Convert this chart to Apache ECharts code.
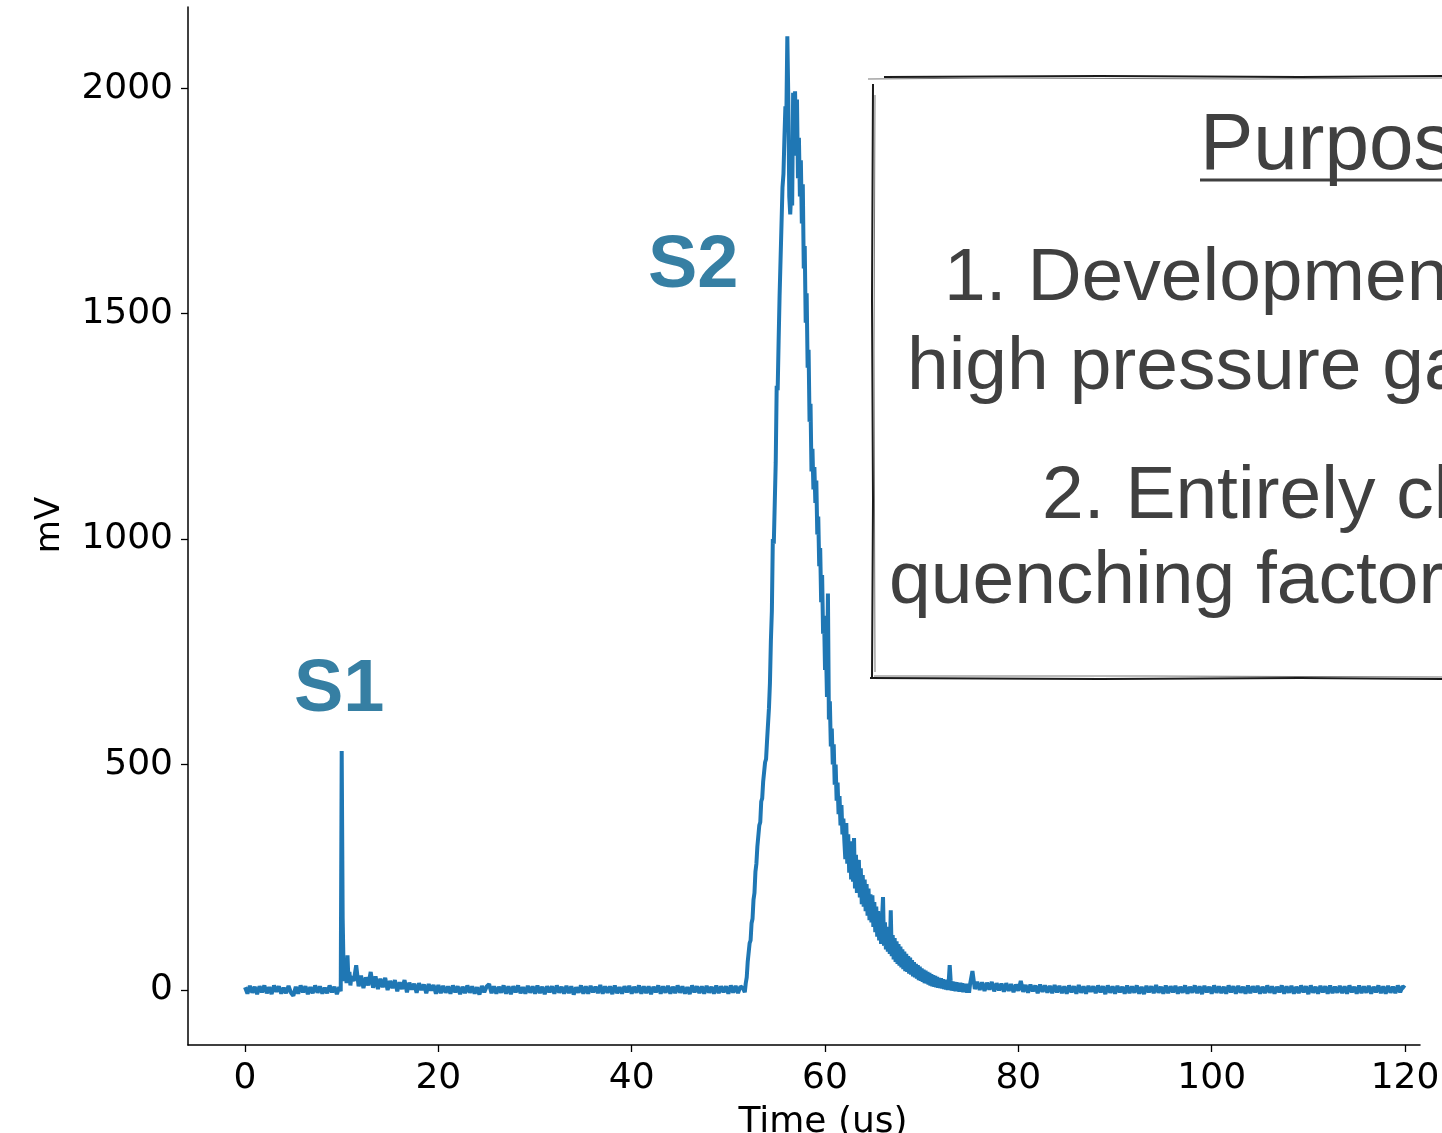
<!DOCTYPE html>
<html><head><meta charset="utf-8">
<script src="https://cdn.jsdelivr.net/npm/echarts@6/dist/echarts.min.js"></script>
<style>html,body{margin:0;padding:0;background:#fff;overflow:hidden}#c{width:1442px;height:1133px}</style>
</head><body><div id="c"></div>
<script>
// Axis ticks
const xTicks = [0, 20, 40, 60, 80, 100, 120];
const yTicks = [0, 500, 1000, 1500, 2000];
const xTitle = 'Time (us)';
const yTitle = 'mV';
const peakLabels = ['S1', 'S2'];
const boxLines = ['Purpose', '1. Development', 'high pressure gas', '2. Entirely clean', 'quenching factor'];

// Waveform segments (mV), sampled from t0 (µs) with a step dt (µs)
const preStart = 0, preStep = 0.25;
const preValues = [6, -8, 9, -6, 7, -9, 8, -5, 10, -7,
  6, -9, 10, -4, 8, -8, 5, -7, 9, -6,
  -13, 7, -8, 10, -5, 8, -9, 6, -7, 10,
  -6, 8, -8, 5, -7, 10, -5, 7, -9, 6];

const s1Start = 9.9, s1Step = 0.1;
const s1Values = [-3, 530, 160, 40, 20, 60, 15, 77, 20, 40, 10, 30];

const s1TailStart = 11.25, s1TailStep = 0.25;
const s1TailValues = [20, 55, 8, 32, 4, 28, 10, 40, 5, 30,
  2, 25, 6, 27, 0, 20, 4, 22, -3, 17,
  2, 22, -5, 16, 1, 14, -6, 15, 0, 12,
  -7, 13, -1, 11, -8, 11];

const midStart = 20.25, midStep = 0.25;
const midValues = [-7, 9, -6, 8, -8, 10, -5, 8, -9, 7,
  -7, 10, -6, 8, -8, 6, -10, 9, -5, 8,
  13, -7, 8, -8, 7, -6, 10, -8, 8, -9,
  8, -5, 10, -7, 6, -8, 9, -6, 8, -8,
  10, -7, 7, -9, 8, -5, 8, -8, 10, -6,
  7, -8, 9, -7, 8, -10, 6, -6, 10, -8,
  8, -8, 9, -5, 7, -7, 11, -8, 8, -6,
  8, -9, 10, -7, 6, -8, 8, -5, 9, -8,
  7, -6, 10, -8, 8, -7, 8, -9, 7, -5,
  10, -8, 8, -6, 9, -8, 7, -7, 10, -6,
  8, -8, 6, -9, 10, -5, 8, -7, 8, -8,
  9, -6, 7, -8, 10, -7, 8, -5, 8, -8,
  10, -6, 9, -7, 8, 4];

const s2Start = 51.6, s2Step = 0.1;
const s2Values = [4, -5, 15, 28, 62, 66, 104, 110, 148, 158,
  200, 215, 262, 280, 318, 322, 365, 372, 418, 425,
  462, 466, 505, 512, 552, 555, 625, 680, 775, 840,
  1000, 990, 1080, 1170, 1340, 1330, 1440, 1540, 1620, 1700,
  1780, 1810, 1890, 1960, 1940, 2115, 1980, 1760, 1720, 1770,
  1740, 1990, 1850, 1993, 1880, 1975, 1800, 1890, 1760, 1840,
  1700, 1787, 1600, 1650, 1480, 1545, 1380, 1420, 1260, 1300,
  1150, 1200, 1110, 1160, 1080, 1130, 1010, 1050, 940, 980,
  860, 920, 790, 830, 710, 760, 650, 879, 600, 640,
  540, 580, 500, 545, 455, 500, 420, 460, 390, 430,
  365, 410, 345, 380, 330];

const s2TailStart = 62.1, s2TailStep = 0.1;
const s2TailValues = [290, 370, 280, 345, 260, 330, 245, 310, 240, 337,
  225, 300, 215, 280, 288, 205, 270, 190, 255, 185,
  245, 175, 235, 165, 225, 155, 212, 150, 210, 140,
  195, 128, 185, 118, 175, 110, 168, 102, 160, 206,
  98, 150, 90, 140, 85, 132, 80, 177, 75, 122,
  68, 115, 62, 108, 58, 102, 54, 96, 50, 90,
  46, 85, 42, 80, 40, 75, 36, 72, 34, 66,
  30, 62, 28, 58, 25, 55, 22, 52, 20, 48,
  18, 45, 15, 43, 14, 40, 12, 38, 10, 35,
  8, 33, 7, 31, 6, 29, 5, 27, 4, 26,
  3, 24, 2, 23, 1, 22, 0, 21, 55, 20,
  -1, 19, -2, 18, -3, 17, -3, 16, -4, 16,
  -4, 15, -5, 14, -5, 14, -6, 13, -6, 12];

const postStart = 75.25, postStep = 0.25;
const postValues = [42, 2, 18, 0, 17, -2, 16, 1, 18, -3,
  15, -1, 14, -4, 15, -2, 13, -5, 12, -2,
  20, -4, 11, -6, 12, -3, 10, -7, 12, -4,
  10, -6, 9, -7, 11, -5, 9, -7, 8, -8,
  10, -5, 8, -8, 11, -6, 8, -8, 9, -4,
  8, -7, 10, -5, 8, -9, 10, -6, 8, -8,
  9, -5, 7, -8, 10, -7, 8, -6, 10, -8,
  7, -9, 9, -5, 8, -7, 11, -6, 7, -8,
  10, -7, 8, -5, 9, -8, 7, -6, 10, -8,
  7, -6, 10, -7, 8, -9, 9, -5, 7, -8,
  10, -6, 8, -7, 7, -8, 10, -5, 8, -8,
  9, -6, 7, -8, 10, -7, 8, -5, 9, -8,
  7, -7, 10, -6, 8, -8, 7, -5, 10, -8,
  8, -6, 9, -8, 7, -7, 10, -5, 8, -9,
  10, -6, 7, -8, 9, -5, 8, -8, 10, -7,
  7, -6, 9, -7, 8, -8, 10, -5, 7, -8,
  10, -7, 8, -6, 9, -8, 7, -5, 10, -7,
  8, -8, 9, -6, 7, -7, 10, -5, 8, 4];

function seg(t0, dt, vals) {
  return vals.map((v, i) => [Math.round((t0 + i * dt) * 100) / 100, v]);
}
const trace = [].concat(
  seg(preStart, preStep, preValues),
  seg(s1Start, s1Step, s1Values),
  seg(s1TailStart, s1TailStep, s1TailValues),
  seg(midStart, midStep, midValues),
  seg(s2Start, s2Step, s2Values),
  seg(s2TailStart, s2TailStep, s2TailValues),
  seg(postStart, postStep, postValues)
);

const chart = echarts.init(document.getElementById('c'), null, {renderer: 'canvas'});
const axisFont = {fontFamily: 'DejaVu Sans', fontSize: 36, color: '#000'};
const boxColor = '#404040';
const labelColor = '#367fa3';
const sketch = '#1a1a1a';

chart.setOption({
  animation: false,
  backgroundColor: '#fff',
  grid: {left: 188, right: 22, top: 7, bottom: 88, containLabel: false, outerBoundsMode: 'none'},
  xAxis: {
    type: 'value', min: -5.9, max: 121.55,
    axisLine: {show: true, onZero: false, lineStyle: {color: '#000', width: 1.5}},
    axisTick: {show: true, length: 7, lineStyle: {color: '#000', width: 1.3}, customValues: xTicks},
    axisLabel: Object.assign({margin: 16, customValues: xTicks, formatter: v => String(v)}, axisFont),
    splitLine: {show: false}
  },
  yAxis: {
    type: 'value', min: -122, max: 2180,
    axisLine: {show: true, onZero: false, lineStyle: {color: '#000', width: 1.5}},
    axisTick: {show: true, length: 7, lineStyle: {color: '#000', width: 1.3}, customValues: yTicks},
    axisLabel: Object.assign({margin: 15, customValues: yTicks, formatter: v => String(v)}, axisFont),
    splitLine: {show: false}
  },
  series: [{
    type: 'line', data: trace, showSymbol: false, symbol: 'none',
    lineStyle: {color: '#1f77b4', width: 4}, sampling: null, z: 3
  }],
  graphic: [
    // axis titles
    {type: 'text', x: 50, y: 525, rotation: Math.PI / 2,
      style: {text: yTitle, font: '34px "DejaVu Sans"', fill: '#000', align: 'center', verticalAlign: 'middle'}},
    {type: 'text', x: 823, y: 1123,
      style: {text: xTitle, font: '36px "DejaVu Sans"', fill: '#000', align: 'center', verticalAlign: 'middle'}},
    // peak labels
    {type: 'text', x: 294, y: 691, z: 10,
      style: {text: peakLabels[0], font: 'bold 74px "Liberation Sans"', fill: labelColor, align: 'left', verticalAlign: 'middle'}},
    {type: 'text', x: 648, y: 267, z: 10,
      style: {text: peakLabels[1], font: 'bold 74px "Liberation Sans"', fill: labelColor, align: 'left', verticalAlign: 'middle'}},
    // sketchy box
    {type: 'rect', shape: {x: 873, y: 77, width: 700, height: 601}, style: {fill: '#fff'}, z: 5},
    {type: 'polyline', z: 6, shape: {points: [[884, 77], [1100, 76], [1300, 77], [1442, 76]]}, style: {stroke: sketch, lineWidth: 2, fill: null}},
    {type: 'polyline', z: 6, shape: {points: [[868, 79], [1000, 78], [1250, 79], [1442, 78]]}, style: {stroke: '#777', lineWidth: 1, fill: null}},
    {type: 'polyline', z: 6, shape: {points: [[873, 84], [872, 300], [873, 500], [872, 678]]}, style: {stroke: sketch, lineWidth: 2, fill: null}},
    {type: 'polyline', z: 6, shape: {points: [[875, 95], [874, 350], [875, 672]]}, style: {stroke: '#777', lineWidth: 1, fill: null}},
    {type: 'polyline', z: 6, shape: {points: [[870, 678], [1100, 679], [1300, 678], [1442, 679]]}, style: {stroke: sketch, lineWidth: 2, fill: null}},
    {type: 'polyline', z: 6, shape: {points: [[874, 676], [1150, 676], [1442, 677]]}, style: {stroke: '#777', lineWidth: 1, fill: null}},
    // box text
    {type: 'text', x: 1200, y: 147, z: 7, style: {text: boxLines[0], font: '80px "Liberation Sans"', fill: boxColor, align: 'left', verticalAlign: 'middle'}},
    {type: 'line', z: 7, shape: {x1: 1200, y1: 180, x2: 1442, y2: 180}, style: {stroke: boxColor, lineWidth: 3}},
    {type: 'text', x: 944, y: 279, z: 7, style: {text: boxLines[1], font: '75px "Liberation Sans"', fill: boxColor, align: 'left', verticalAlign: 'middle'}},
    {type: 'text', x: 907, y: 368, z: 7, style: {text: boxLines[2], font: '75px "Liberation Sans"', fill: boxColor, align: 'left', verticalAlign: 'middle'}},
    {type: 'text', x: 1042, y: 497, z: 7, style: {text: boxLines[3], font: '75px "Liberation Sans"', fill: boxColor, align: 'left', verticalAlign: 'middle'}},
    {type: 'text', x: 889, y: 582, z: 7, style: {text: boxLines[4], font: '75px "Liberation Sans"', fill: boxColor, align: 'left', verticalAlign: 'middle'}}
  ]
});
</script></body></html>
